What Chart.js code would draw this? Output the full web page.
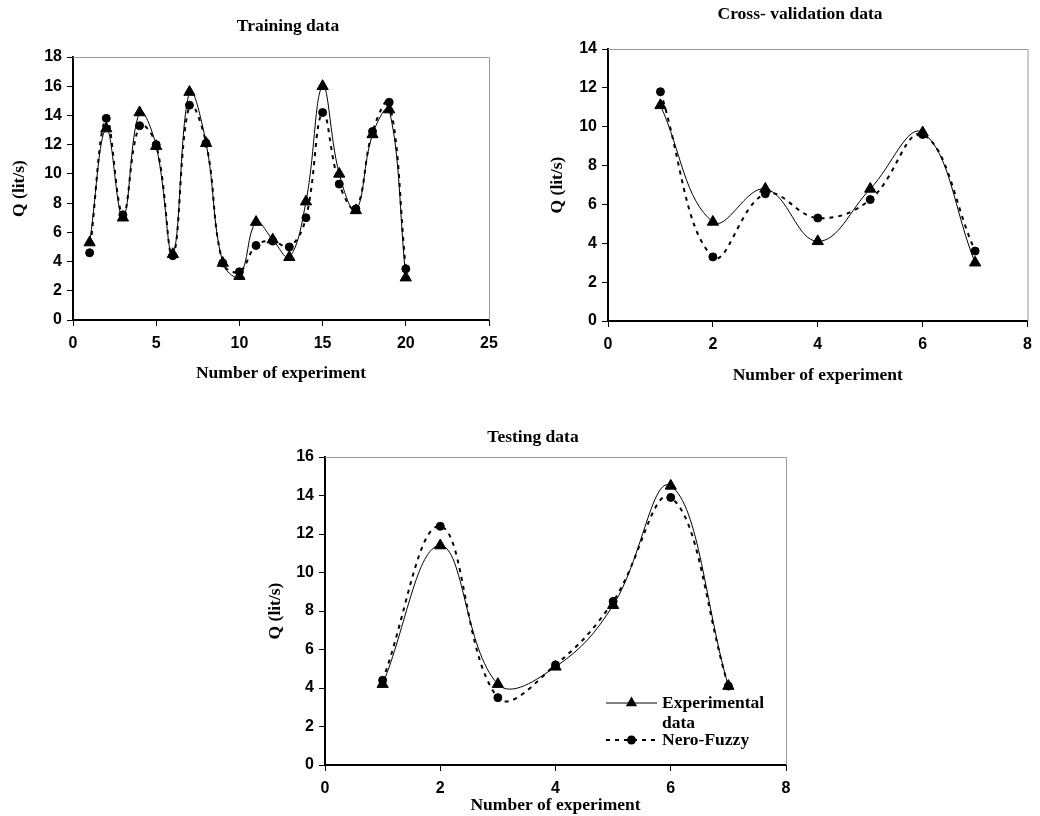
<!DOCTYPE html>
<html>
<head>
<meta charset="utf-8">
<title>Q (lit/s) - Experimental vs Nero-Fuzzy</title>
<script src="https://cdn.jsdelivr.net/npm/chart.js"></script>
<style>
    body { margin: 0; background: #fff; }
    #page { position: relative; width: 1040px; height: 816px; }
    .panel { position: absolute; }
</style>
</head>
<body>
<div id="page">
    <div class="panel" style="left:0px;top:0px"><canvas id="trainingChart" width="520" height="390"></canvas></div>
    <div class="panel" style="left:520px;top:0px"><canvas id="crossChart" width="520" height="390"></canvas></div>
    <div class="panel" style="left:250px;top:390px"><canvas id="testingChart" width="560" height="426"></canvas></div>
</div>
<script>
"use strict"

/******************************************************************************/
// data
/******************************************************************************/

const seriesNames = ['Experimental data', 'Nero-Fuzzy']

const trainingRuns = [1, 2, 3, 4, 5, 6, 7, 8, 9, 10, 11, 12, 13, 14, 15, 16, 17, 18, 19, 20]
const trainingExperimental = [5.3, 13.1, 7.0, 14.2, 11.9, 4.5, 15.6, 12.1, 3.9, 3.0, 6.7, 5.5, 4.3, 8.1, 16.0, 10.0, 7.5, 12.7, 14.4, 2.9]
const trainingNeroFuzzy = [4.6, 13.8, 7.2, 13.3, 12.0, 4.4, 14.7, 12.1, 3.9, 3.3, 5.1, 5.4, 5.0, 7.0, 14.2, 9.3, 7.6, 12.9, 14.9, 3.5]

const crossRuns = [1, 2, 3, 4, 5, 6, 7]
const crossExperimental = [11.1, 5.1, 6.8, 4.1, 6.8, 9.7, 3.0]
const crossNeroFuzzy = [11.8, 3.3, 6.55, 5.3, 6.25, 9.6, 3.6]

const testingRuns = [1, 2, 3, 4, 5, 6, 7]
const testingExperimental = [4.2, 11.4, 4.2, 5.1, 8.3, 14.5, 4.1]
const testingNeroFuzzy = [4.4, 12.4, 3.5, 5.2, 8.5, 13.9, 4.1]

const trainingXTicks = { min: 0, max: 25, step: 5 }
const trainingYTicks = { min: 0, max: 18, step: 2 }
const crossXTicks = { min: 0, max: 8, step: 2 }
const crossYTicks = { min: 0, max: 14, step: 2 }
const testingXTicks = { min: 0, max: 8, step: 2 }
const testingYTicks = { min: 0, max: 16, step: 2 }

/******************************************************************************/

const serifBold = '"Liberation Serif", "Times New Roman", serif'
const sansBold = '"Liberation Sans", Arial, sans-serif'

Chart.defaults.color = '#000'
Chart.defaults.font.family = sansBold

let toPoints = (xs, ys) => xs.map((x, i) => ({ x: x, y: ys[i] }))

// chart title drawn at a fixed spot of the canvas
const headingPlugin = {
    id: 'heading',
    afterDraw(chart, args, opts) {
        let ctx = chart.ctx
        ctx.save()
        ctx.font = 'bold 17.5px ' + serifBold
        ctx.fillStyle = '#000'
        ctx.textAlign = 'center'
        ctx.textBaseline = 'middle'
        ctx.fillText(opts.text, opts.x, opts.y)
        ctx.restore()
    }
}

// grey top and right edges of the plot area
const framePlugin = {
    id: 'frame',
    beforeDatasetsDraw(chart) {
        let { left, right, top, bottom } = chart.chartArea
        let ctx = chart.ctx
        ctx.save()
        ctx.strokeStyle = '#9a9a9a'
        ctx.lineWidth = 1
        ctx.beginPath()
        ctx.moveTo(left, top + 0.5)
        ctx.lineTo(right + 0.5, top + 0.5)
        ctx.lineTo(right + 0.5, bottom)
        ctx.stroke()
        ctx.restore()
    }
}

// legend sitting inside the plot, text wrapped like the original
const boxLegendPlugin = {
    id: 'boxLegend',
    afterDraw(chart, args, opts) {
        if (!opts.show) return
        let ctx = chart.ctx
        ctx.save()
        ctx.font = 'bold 17.5px ' + serifBold
        ctx.textBaseline = 'middle'
        let y = opts.y
        chart.data.datasets.forEach(ds => {
            let midX = opts.x + opts.sample / 2
            ctx.strokeStyle = '#000'
            ctx.lineWidth = ds.borderWidth
            ctx.setLineDash(ds.borderDash || [])
            ctx.beginPath()
            ctx.moveTo(opts.x, y)
            ctx.lineTo(opts.x + opts.sample, y)
            ctx.stroke()
            ctx.setLineDash([])
            ctx.fillStyle = '#000'
            ctx.beginPath()
            if (ds.pointStyle === 'triangle') {
                let r = ds.pointRadius
                ctx.moveTo(midX, y - r)
                ctx.lineTo(midX + r * 0.866, y + r / 2)
                ctx.lineTo(midX - r * 0.866, y + r / 2)
                ctx.closePath()
            } else {
                ctx.arc(midX, y, ds.pointRadius + 0.5, 0, Math.PI * 2)
            }
            ctx.fill()
            // wrap words to the room left in the plot
            let words = ds.label.split(' ')
            let lines = []
            let line = ''
            words.forEach(w => {
                let test = line ? line + ' ' + w : w
                if (line && ctx.measureText(test).width > opts.maxWidth) {
                    lines.push(line)
                    line = w
                } else line = test
            })
            lines.push(line)
            lines.forEach((l, i) => {
                ctx.fillText(l, opts.x + opts.sample + opts.gap, y + i * opts.lineStep)
            })
            y += (lines.length - 1) * opts.lineStep + opts.itemStep
        })
        ctx.restore()
    }
}

let makeChart = function({ id, runs, experimental, neroFuzzy, xTicks, yTicks, box, heading, legend }) {
    let ctx = document.getElementById(id).getContext('2d')
    return new Chart(ctx, {
        type: 'line',
        data: {
            datasets: [{
                label: seriesNames[0],
                data: toPoints(runs, experimental),
                borderColor: '#000',
                borderWidth: 1,
                tension: 0.4,
                pointStyle: 'triangle',
                pointRadius: 6.5,
                pointBackgroundColor: '#000',
                pointBorderColor: '#000',
                pointBorderWidth: 1,
                fill: false
            }, {
                label: seriesNames[1],
                data: toPoints(runs, neroFuzzy),
                borderColor: '#000',
                borderWidth: 2,
                borderDash: [4, 5],
                tension: 0.4,
                pointStyle: 'circle',
                pointRadius: 4,
                pointBackgroundColor: '#000',
                pointBorderColor: '#000',
                pointBorderWidth: 1,
                fill: false
            }]
        },
        options: {
            responsive: false,
            animation: false,
            layout: { padding: box.padding },
            scales: {
                x: {
                    type: 'linear',
                    min: xTicks.min,
                    max: xTicks.max,
                    afterFit: scale => { scale.height = box.xHeight },
                    ticks: {
                        stepSize: xTicks.step,
                        padding: 8,
                        maxRotation: 0,
                        font: { size: 16, weight: 'bold', family: sansBold }
                    },
                    grid: { drawOnChartArea: false, tickLength: 6, color: '#000' },
                    border: { color: '#000', width: 2 },
                    title: {
                        display: true,
                        text: 'Number of experiment',
                        padding: { top: 0, bottom: box.xTitlePad },
                        font: { size: 17.5, weight: 'bold', family: serifBold }
                    }
                },
                y: {
                    min: yTicks.min,
                    max: yTicks.max,
                    afterFit: scale => { scale.width = box.yWidth },
                    ticks: {
                        stepSize: yTicks.step,
                        padding: 5,
                        font: { size: 16, weight: 'bold', family: sansBold }
                    },
                    grid: { drawOnChartArea: false, tickLength: 6, color: '#000' },
                    border: { color: '#000', width: 2 },
                    title: {
                        display: true,
                        text: 'Q (lit/s)',
                        padding: { top: box.yTitlePad, bottom: 0 },
                        font: { size: 17.5, weight: 'bold', family: serifBold }
                    }
                }
            },
            plugins: {
                legend: { display: false },
                tooltip: { enabled: false },
                heading: heading,
                boxLegend: legend || { show: false }
            }
        },
        plugins: [framePlugin, headingPlugin, boxLegendPlugin]
    })
}

makeChart({
    id: 'trainingChart',
    runs: trainingRuns,
    experimental: trainingExperimental,
    neroFuzzy: trainingNeroFuzzy,
    xTicks: trainingXTicks,
    yTicks: trainingYTicks,
    box: { padding: { top: 57, right: 31, bottom: 0, left: 0 }, xHeight: 70, yWidth: 73, xTitlePad: 6, yTitlePad: 8.5 },
    heading: { text: 'Training data', x: 288, y: 26 }
})

makeChart({
    id: 'crossChart',
    runs: crossRuns,
    experimental: crossExperimental,
    neroFuzzy: crossNeroFuzzy,
    xTicks: crossXTicks,
    yTicks: crossYTicks,
    box: { padding: { top: 49, right: 7, bottom: 0, left: 0 }, xHeight: 69, yWidth: 88, xTitlePad: 4.5, yTitlePad: 26.5 },
    heading: { text: 'Cross- validation data', x: 280, y: 14 }
})

makeChart({
    id: 'testingChart',
    runs: testingRuns,
    experimental: testingExperimental,
    neroFuzzy: testingNeroFuzzy,
    xTicks: testingXTicks,
    yTicks: testingYTicks,
    box: { padding: { top: 67, right: 24, bottom: 0, left: 0 }, xHeight: 51, yWidth: 75, xTitlePad: 0.5, yTitlePad: 14.5 },
    heading: { text: 'Testing data', x: 283, y: 47 },
    legend: { show: true, x: 356, y: 313, sample: 51, gap: 5, maxWidth: 120, lineStep: 20, itemStep: 17 }
})
</script>
</body>
</html>
